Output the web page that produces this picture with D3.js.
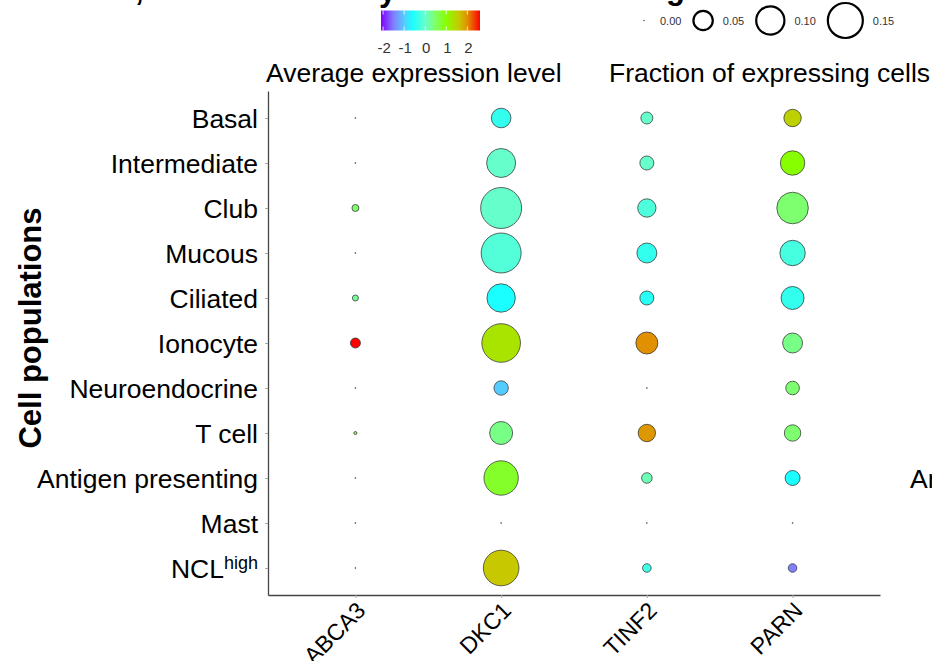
<!DOCTYPE html>
<html>
<head>
<meta charset="utf-8">
<script src="https://d3js.org/d3.v7.min.js"></script>
<style>
  body { margin: 0; background: #fff; }
  svg { display: block; font-family: "Liberation Sans", Arial, sans-serif; }
</style>
</head>
<body>
<svg id="chart" width="932" height="661"></svg>
<script>
// Data
const cellTypes = ["Basal", "Intermediate", "Club", "Mucous", "Ciliated", "Ionocyte",
    "Neuroendocrine", "T cell", "Antigen presenting", "Mast", "NCLhigh"];
const genes = ["ABCA3", "DKC1", "TINF2", "PARN"];

// fraction of expressing cells, one array per gene (same order as cellTypes)
const fracABCA3 = [0, 0, 0.007, 0, 0.0054, 0.0133, 0, 0.0018, 0, 0, 0];
const fracDKC1  = [0.0465, 0.0986, 0.193, 0.184, 0.0947, 0.172, 0.026, 0.063, 0.137, 0, 0.147];
const fracTINF2 = [0.0185, 0.0247, 0.041, 0.048, 0.0247, 0.058, 0, 0.037, 0.0147, 0, 0.0101];
const fracPARN  = [0.037, 0.0707, 0.116, 0.0764, 0.063, 0.048, 0.0234, 0.0332, 0.028, 0, 0.0101];

// average expression level (scaled), null where nothing is expressed
const exprABCA3 = [null, null, 0.45, null, 0.25, 2.6, null, 0.6, null, null, null];
const exprDKC1  = [-0.4, 0, 0, -0.15, -0.6, 1.3, -1.0, 0.35, 0.8, null, 1.6];
const exprTINF2 = [0, 0, -0.2, -0.4, -0.5, 2.0, null, 1.95, 0.1, null, -0.3];
const exprPARN  = [1.5, 1.0, 0.45, -0.25, -0.4, 0.35, 0.45, 0.45, -0.6, null, -1.5];

// colour scale stops and legend values
const exprStops  = [-2.1, -1.5, -1.0, -0.6, 0, 0.5, 1.0, 1.6, 2.0, 2.6];
const exprColors = ["#8000ff", "#8080ff", "#55ccff", "#1affff", "#66ffcc", "#80ff66",
                    "#88ff00", "#c8c800", "#e09000", "#ff0000"];
const exprTicks = [-2, -1, 0, 1, 2];
const sizeBreaks = [0, 0.05, 0.10, 0.15];

const fracs = { ABCA3: fracABCA3, DKC1: fracDKC1, TINF2: fracTINF2, PARN: fracPARN };
const exprs = { ABCA3: exprABCA3, DKC1: exprDKC1, TINF2: exprTINF2, PARN: exprPARN };

// long table for drawing
const points = [];
genes.forEach(g => {
    cellTypes.forEach((c, i) => {
        points.push({ gene: g, cell: c, frac: fracs[g][i], expr: exprs[g][i] });
    });
});

const svg = d3.select("#chart");
const labelSize = "26.5px";

// Scales
const x = d3.scalePoint().domain(genes).range([268, 880]).padding(0.6);
const y = d3.scalePoint().domain(cellTypes).range([91, 595]).padding(0.6);
const r = d3.scaleSqrt().domain([0, 0.15]).range([0, 18.5]);
const color = d3.scaleLinear().domain(exprStops).range(exprColors).clamp(true);

// Clipped title pieces at the very top of the picture (only descenders show)
const titleBits = svg.append("g")
    .style("font-weight", "bold")
    .style("font-size", "31px")
    .attr("fill", "#000");
titleBits.append("text").attr("x", 135).attr("y", 0).text(",");
titleBits.append("text").attr("x", 379).attr("y", 0.5).text("y");
titleBits.append("text").attr("x", 666).attr("y", -1).text("g");

// Y axis
const yAxis = svg.append("g")
    .attr("transform", "translate(268,0)")
    .call(d3.axisLeft(y).tickSize(3).tickSizeOuter(0).tickPadding(7));
yAxis.select(".domain").attr("stroke", "#444").attr("stroke-width", 1.3);
yAxis.selectAll(".tick line").attr("stroke", "#aaa");
yAxis.selectAll(".tick text")
    .attr("fill", "#000")
    .style("font-size", labelSize)
    .attr("dy", "0.34em");
// superscript for NCLhigh
yAxis.selectAll(".tick text").filter(d => d === "NCLhigh")
    .text(null)
    .call(t => {
        t.append("tspan").text("NCL");
        t.append("tspan").text("high").attr("dy", "-0.45em").style("font-size", "18px");
    });

// X axis
const xAxis = svg.append("g")
    .attr("transform", "translate(0,595)")
    .call(d3.axisBottom(x).tickSize(3).tickSizeOuter(0));
xAxis.select(".domain").attr("stroke", "#444").attr("stroke-width", 1.3);
xAxis.selectAll(".tick line").attr("stroke", "#aaa");
xAxis.selectAll(".tick text")
    .attr("fill", "#000")
    .style("font-size", "23px")
    .attr("text-anchor", "end")
    .attr("x", 11)
    .attr("y", 17)
    .attr("dy", 0)
    .attr("transform", "rotate(-45,11,17)");

// Y axis title
svg.append("text")
    .attr("transform", "translate(41,328) rotate(-90)")
    .attr("text-anchor", "middle")
    .style("font-size", "31px")
    .style("font-weight", "bold")
    .text("Cell populations");

// Dots
svg.append("g").selectAll("circle")
    .data(points)
    .join("circle")
    .attr("cx", d => x(d.gene))
    .attr("cy", d => y(d.cell))
    .attr("r", d => d.frac > 0 ? Math.max(r(d.frac) - 0.5, 1) : 0.8)
    .attr("fill", d => d.expr === null ? "#2a3a3a" : color(d.expr))
    .attr("stroke", d => d.frac > 0 ? "#333" : "none")
    .attr("stroke-opacity", 0.75)
    .attr("stroke-width", 1);

// Colour legend
const cx = d3.scaleLinear().domain([-2.1, 2.6]).range([381, 480]);
const defs = svg.append("defs");
const grad = defs.append("linearGradient").attr("id", "exprGrad");
exprStops.forEach((s, i) => {
    grad.append("stop")
        .attr("offset", ((cx(s) - 381) / 99 * 100) + "%")
        .attr("stop-color", exprColors[i]);
});
svg.append("rect")
    .attr("x", 381).attr("y", 10.5)
    .attr("width", 99).attr("height", 20)
    .attr("fill", "url(#exprGrad)");
const cbTicks = svg.append("g");
exprTicks.forEach(t => {
    cbTicks.append("line")
        .attr("x1", cx(t)).attr("x2", cx(t)).attr("y1", 10.5).attr("y2", 14.5)
        .attr("stroke", "#fff").attr("stroke-opacity", 0.8);
    cbTicks.append("line")
        .attr("x1", cx(t)).attr("x2", cx(t)).attr("y1", 26.5).attr("y2", 30.5)
        .attr("stroke", "#fff").attr("stroke-opacity", 0.8);
    cbTicks.append("text")
        .attr("x", cx(t) + 1).attr("y", 53)
        .attr("text-anchor", "middle")
        .style("font-size", "15px")
        .attr("fill", "#333")
        .text(t);
});
svg.append("text")
    .attr("x", 266).attr("y", 82)
    .style("font-size", labelSize)
    .text("Average expression level");

// Size legend
const sizeLegend = svg.append("g");
let left = 637;
sizeBreaks.forEach(v => {
    const rr = r(v);
    const kw = Math.max(2 * rr, 14);
    const ccx = left + kw / 2;
    if (v > 0) {
        sizeLegend.append("circle")
            .attr("cx", ccx).attr("cy", 20.5)
            .attr("r", rr - 1)
            .attr("fill", "none")
            .attr("stroke", "#000")
            .attr("stroke-width", 2.2);
    } else {
        sizeLegend.append("circle")
            .attr("cx", ccx).attr("cy", 20.5)
            .attr("r", 0.7)
            .attr("fill", "#333");
    }
    const lbl = sizeLegend.append("text")
        .attr("x", left + kw + 9).attr("y", 24.5)
        .style("font-size", "11px")
        .attr("fill", "#333")
        .text(v.toFixed(2));
    left = left + kw + 9 + lbl.node().getComputedTextLength() + 11;
});
svg.append("text")
    .attr("x", 609).attr("y", 82)
    .style("font-size", labelSize)
    .text("Fraction of expressing cells");

// Neighbouring panel label, cut by the right edge
svg.append("text")
    .attr("x", 910).attr("y", 488)
    .style("font-size", labelSize)
    .text("Antigen presenting");
</script>
</body>
</html>
